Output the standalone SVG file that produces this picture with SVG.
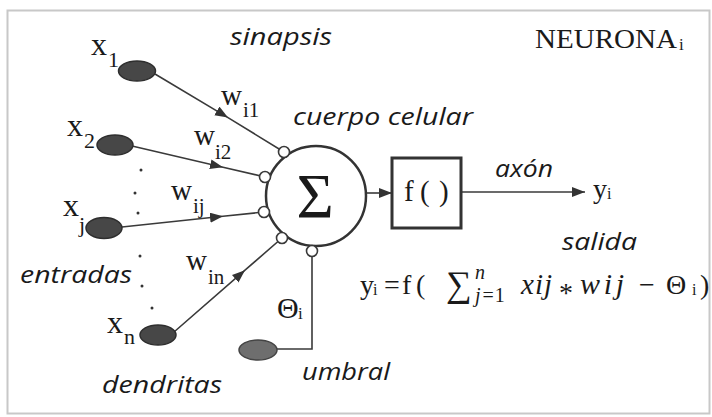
<svg xmlns="http://www.w3.org/2000/svg" width="712" height="417" viewBox="0 0 712 417">
<style>
.it{font-family:"Open Sans","Liberation Sans",sans-serif;font-style:italic;font-size:23px;fill:#1a1a1a}
.sf{font-family:"Liberation Serif","Times New Roman",serif;fill:#1a1a1a}
.mi{font-family:"Liberation Serif","Times New Roman",serif;font-style:italic;fill:#1a1a1a}
.ln{stroke:#3a3a3a;stroke-width:1.6;fill:none}
.syn{fill:#fff;stroke:#3a3a3a;stroke-width:1.6}
.inp{fill:#474747;stroke:#2e2e2e;stroke-width:1.5}
</style>
<defs>
<marker id="ah" markerUnits="userSpaceOnUse" markerWidth="14" markerHeight="12" refX="13" refY="5" orient="auto">
<path d="M0,0 L13,5 L0,10 z" fill="#333"/>
</marker>
</defs>
<rect x="0" y="0" width="712" height="417" fill="#fff"/>
<rect x="7.5" y="10.5" width="702" height="403" fill="#fff" stroke="#c8c8c8" stroke-width="2"/>

<g id="connectors">
<path class="ln" d="M155,74 L228,117.6 L284,152" marker-mid="url(#ah)"/>
<path class="ln" d="M132,146 L223,167.2 L265,177" marker-mid="url(#ah)"/>
<path class="ln" d="M122,227 L223,216.3 L264,212" marker-mid="url(#ah)"/>
<path class="ln" d="M174,332 L245,270.2 L282,238" marker-mid="url(#ah)"/>
<path class="ln" d="M277,349 L312,349 L312,256" stroke="#555"/>
<path class="ln" d="M366,193 L392,193" stroke-width="2" marker-end="url(#ah)"/>
<path class="ln" d="M461,192 L585,192" stroke-width="2.2" marker-end="url(#ah)"/>
</g>

<g id="x1"><ellipse class="inp" cx="137" cy="71" rx="18.5" ry="10"/>
<text class="sf" x="91" y="55" font-size="32">x</text><text class="sf" x="108" y="67" font-size="22">1</text></g>
<g id="x2"><ellipse class="inp" cx="115" cy="145" rx="18" ry="10"/>
<text class="sf" x="67" y="136" font-size="32">x</text><text class="sf" x="84" y="148" font-size="22">2</text></g>
<g id="xj"><ellipse class="inp" cx="104" cy="228" rx="18" ry="10.5"/>
<text class="sf" x="63" y="216" font-size="32">x</text><text class="sf" x="79" y="232" font-size="22">j</text></g>
<g id="xn"><ellipse class="inp" cx="158" cy="335" rx="18" ry="10"/>
<text class="sf" x="107" y="333" font-size="32">x</text><text class="sf" x="124" y="344" font-size="22">n</text></g>
<g id="theta"><ellipse cx="258" cy="350" rx="19" ry="10" fill="#6e6e6e" stroke="#444" stroke-width="1.5"/>
<text class="sf" x="277" y="318" font-size="30">Θ</text><text class="sf" x="298" y="319" font-size="17">i</text></g>

<g id="weights">
<text class="sf" x="221" y="105" font-size="29">w</text><text class="sf" x="243" y="117" font-size="21">i1</text>
<text class="sf" x="194" y="145" font-size="29">w</text><text class="sf" x="215" y="159" font-size="21">i2</text>
<text class="sf" x="171" y="200" font-size="29">w</text><text class="sf" x="193" y="213" font-size="21">ij</text>
<text class="sf" x="186" y="270" font-size="29">w</text><text class="sf" x="208" y="284" font-size="21">in</text>
</g>

<g id="dots" fill="#333">
<circle cx="141" cy="170" r="1.5"/><circle cx="135" cy="193" r="1.5"/><circle cx="138" cy="213" r="1.5"/>
<circle cx="140" cy="256" r="1.5"/><circle cx="142" cy="286" r="1.5"/><circle cx="152" cy="308" r="1.5"/>
</g>

<g id="soma">
<circle cx="316" cy="196" r="50" fill="#fff" stroke="#333" stroke-width="2.5"/>
<text class="sf" x="315" y="218" font-size="64" text-anchor="middle">Σ</text>
<circle class="syn" cx="284" cy="152" r="5.5"/>
<circle class="syn" cx="265" cy="177" r="5.5"/>
<circle class="syn" cx="264" cy="212" r="5.5"/>
<circle class="syn" cx="282" cy="238" r="5.5"/>
<circle class="syn" cx="312" cy="251" r="5.5"/>
</g>

<g id="fbox">
<rect x="392" y="158" width="69" height="70" fill="#fff" stroke="#333" stroke-width="3"/>
<text class="sf" x="404" y="201" font-size="29">f</text>
<text class="sf" x="420" y="201" font-size="29">(</text>
<text class="sf" x="439" y="201" font-size="29">)</text>
</g>

<g id="output"><text class="sf" x="593" y="198" font-size="28">y</text><text class="sf" x="607" y="199" font-size="16">i</text></g>

<g id="labels">
<text class="it" x="230" y="45" textLength="102" lengthAdjust="spacingAndGlyphs">sinapsis</text>
<text class="it" x="293" y="125" textLength="180" lengthAdjust="spacingAndGlyphs">cuerpo celular</text>
<text class="it" x="495" y="177" textLength="58" lengthAdjust="spacingAndGlyphs">axón</text>
<text class="it" x="562" y="250" textLength="75" lengthAdjust="spacingAndGlyphs">salida</text>
<text class="it" x="20" y="283" textLength="112" lengthAdjust="spacingAndGlyphs">entradas</text>
<text class="it" x="102" y="393" textLength="120" lengthAdjust="spacingAndGlyphs">dendritas</text>
<text class="it" x="302" y="380" textLength="88" lengthAdjust="spacingAndGlyphs">umbral</text>
<text class="sf" x="535" y="48" font-size="27" textLength="142" lengthAdjust="spacingAndGlyphs" fill="#111">NEURONA</text><text class="sf" x="679" y="50" font-size="17">i</text>
</g>

<g id="equation">
<text class="sf" x="360" y="294" font-size="28">y</text><text class="sf" x="373" y="295" font-size="16">i</text>
<text class="sf" x="384" y="294" font-size="28">=</text>
<text class="sf" x="402" y="294" font-size="28">f</text>
<text class="sf" x="416" y="294" font-size="28">(</text>
<text class="sf" x="446" y="296" font-size="36">∑</text>
<text class="mi" x="475" y="279" font-size="20">n</text>
<text class="sf" x="475" y="302" font-size="20"><tspan font-style="italic">j</tspan><tspan dx="2">=</tspan><tspan dx="1">1</tspan></text>
<text class="mi" x="521" y="294" font-size="29" textLength="31" lengthAdjust="spacing">xij</text>
<text class="sf" x="559" y="302" font-size="28">*</text>
<text class="mi" x="580" y="294" font-size="30" textLength="44" lengthAdjust="spacing">wij</text>
<text class="sf" x="639" y="294" font-size="28">−</text>
<text class="sf" x="666" y="294" font-size="28">Θ</text><text class="sf" x="692" y="295" font-size="16">i</text>
<text class="sf" x="700" y="294" font-size="28">)</text>
</g>
</svg>
